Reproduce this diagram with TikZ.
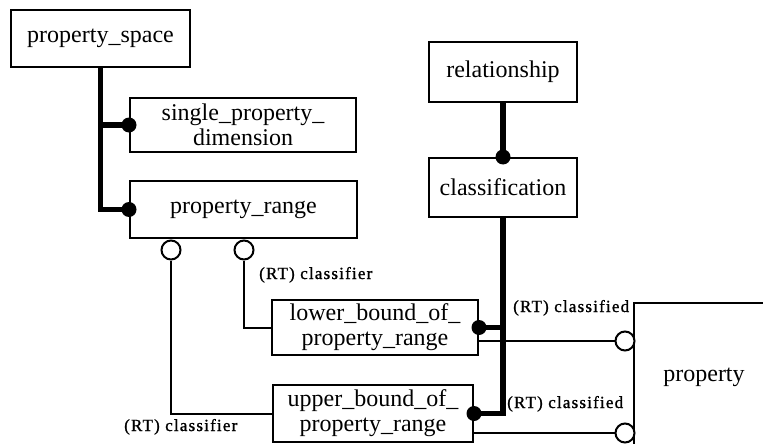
\documentclass[tikz,border=0pt]{standalone}
\usepackage{fontspec}
\setmainfont{Liberation Serif}
\newfontfamily\boxfont{Liberation Serif}
\newfontfamily\tagfont[LetterSpace=7,FakeBold=1.2]{Liberation Serif}
\usepackage{tikz}
\usetikzlibrary{positioning,calc}

\begin{document}
\begin{tikzpicture}[
  x=1pt, y=-1pt,
  entity/.style={rectangle, draw, line width=2pt, align=center, inner sep=0pt,
                 font=\boxfont\fontsize{24}{25}\selectfont},
  agg/.style={line width=5.5pt},
  ref/.style={line width=2pt},
  dot/.style={circle, fill, inner sep=0pt, minimum size=15pt},
  ring/.style={circle, draw, fill=white, line width=2pt, inner sep=0pt, minimum size=19pt},
  tag/.style={anchor=base west, inner sep=0pt, font=\tagfont\fontsize{17}{18}\selectfont},
]
\useasboundingbox (0,0) rectangle (763,444);

% Entities
\node[entity, minimum width=179pt, minimum height=57pt] (space) at (100.5,38.5) {property\_space};
\node[entity, minimum width=226pt, minimum height=54pt] (dim)   at (243,125)    {single\_property\_\\dimension};
\node[entity, minimum width=227pt, minimum height=57pt] (range) at (243.5,209.5) {property\_range};
\node[entity, minimum width=148pt, minimum height=60pt] (rel)   at (503,72)     {relationship};
\node[entity, minimum width=148pt, minimum height=59pt] (cls)   at (503,187.5)  {classification};
\node[entity, minimum width=206pt, minimum height=55pt] (lower) at (375,327.5)  {lower\_bound\_of\_\\property\_range};
\node[entity, minimum width=200pt, minimum height=57pt] (upper) at (373,413.5)  {upper\_bound\_of\_\\property\_range};
\node[entity, minimum width=140pt, minimum height=148pt] (prop) at (704,377)    {property};

% Subtype trees (thick)
\draw[agg] (space.south) |- (dim.west);
\draw[agg] (space.south) |- (range.west);
\draw[agg] (rel.south) -- (cls.north);
\draw[agg] (cls.south) |- (upper.east);
\draw[agg] (cls.south |- lower.east) -- (lower.east);
\foreach \n/\a in {d1/dim.west, d2/range.west, d3/cls.north, d4/lower.east, d5/upper.east}
  \node[dot] (\n) at (\a) {};

% Relationship roles (thin)
\node[ring] (r1) at (171,250) {};
\node[ring] (r2) at (244,250) {};
\node[ring] (r3) at (625,341) {};
\node[ring] (r4) at (625,433) {};
\draw[ref] (r1.south) |- (upper.west);
\draw[ref] (r2.south) |- (lower.west);
\draw[ref] (r3.west -| lower.east) -- (r3.west);
\draw[ref] (r4.west -| upper.east) -- (r4.west);

% Role names
\node[tag] (t1) at (259,279) {(RT) classifier};
\node[tag] (t2) at (124,431) {(RT) classifier};
\node[tag] (t3) at (513,312) {(RT) classified};
\node[tag] (t4) at (507,408) {(RT) classified};

\end{tikzpicture}
\end{document}
